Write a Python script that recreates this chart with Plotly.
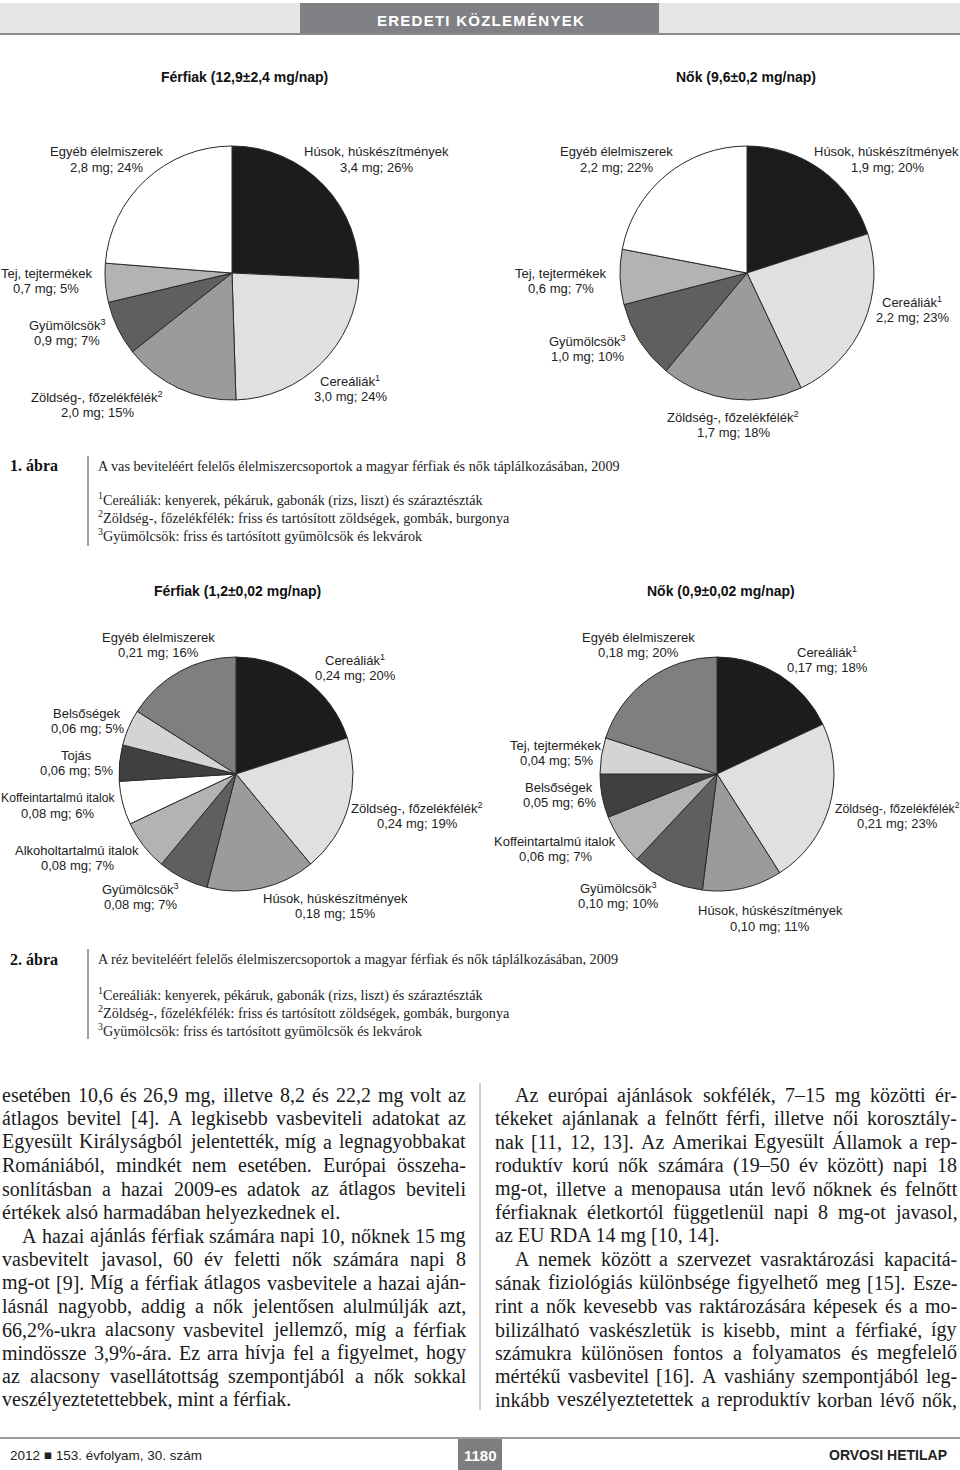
import unicodedata
import plotly.graph_objects as go

W, H = 960, 1470

# ---------------- DATA ----------------
# Figure 1 (iron) - categories in clockwise order from 12 o'clock
fe_categories = ["Húsok, húskészítmények", "Cereáliák<sup>1</sup>",
                 "Zöldség-, főzelékfélék<sup>2</sup>", "Gyümölcsök<sup>3</sup>",
                 "Tej, tejtermékek", "Egyéb élelmiszerek"]
fe_men_mg = [3.4, 3.0, 2.0, 0.9, 0.7, 2.8]
fe_men_pct = [26, 24, 15, 7, 5, 24]
fe_women_mg = [1.9, 2.2, 1.7, 1.0, 0.6, 2.2]
fe_women_pct = [20, 23, 18, 10, 7, 22]

# Figure 2 (copper)
cu_men_categories = ["Cereáliák<sup>1</sup>", "Zöldség-, főzelékfélék<sup>2</sup>",
                     "Húsok, húskészítmények", "Gyümölcsök<sup>3</sup>",
                     "Alkoholtartalmú italok", "Koffeintartalmú italok",
                     "Tojás", "Belsőségek", "Egyéb élelmiszerek"]
cu_men_mg = [0.24, 0.24, 0.18, 0.08, 0.08, 0.08, 0.06, 0.06, 0.21]
cu_men_pct = [20, 19, 15, 7, 7, 6, 5, 5, 16]

cu_women_categories = ["Cereáliák<sup>1</sup>", "Zöldség-, főzelékfélék<sup>2</sup>",
                       "Húsok, húskészítmények", "Gyümölcsök<sup>3</sup>",
                       "Koffeintartalmú italok", "Belsőségek",
                       "Tej, tejtermékek", "Egyéb élelmiszerek"]
cu_women_mg = [0.17, 0.21, 0.10, 0.10, 0.06, 0.05, 0.04, 0.18]
cu_women_pct = [18, 23, 11, 10, 7, 6, 5, 20]

titles = ["Férfiak (12,9±2,4 mg/nap)", "Nők (9,6±0,2 mg/nap)",
          "Férfiak (1,2±0,02 mg/nap)", "Nők (0,9±0,02 mg/nap)"]

# ---------------- STYLE / LAYOUT ----------------
fe_colors = ["#1c1c1c", "#e0e0e0", "#9b9b9b", "#5f5f5f", "#b3b3b3", "#ffffff"]
cu_men_colors = ["#1c1c1c", "#e0e0e0", "#9b9b9b", "#5f5f5f", "#b3b3b3",
                 "#ffffff", "#404040", "#d4d4d4", "#7f7f7f"]
cu_women_colors = ["#1c1c1c", "#e0e0e0", "#9b9b9b", "#5f5f5f", "#b3b3b3",
                   "#404040", "#d4d4d4", "#7f7f7f"]

# label anchor positions in pixels: (name x, name y, value x, name font size)
pos_fe_men = [(376, 152, 376, 13), (350, 381, 350, 13), (97, 397, 97, 13),
              (67, 325, 67, 13), (47, 273, 46, 13), (106, 152, 106, 13)]
pos_fe_women = [(886, 152, 887, 13), (912, 302, 912, 13), (733, 417, 733, 13),
                (587, 341, 587, 13), (561, 273, 561, 13), (616, 152, 616, 13)]
pos_cu_men = [(355, 660, 355, 13), (417, 808, 417, 13), (335, 898, 335, 13),
              (140, 889, 140, 13), (77, 850, 77, 13), (58, 798, 57, 12.2),
              (76, 755, 76, 13), (87, 713, 87, 13), (158, 637, 158, 13)]
pos_cu_women = [(827, 652, 827, 13), (897, 808, 897, 12.3), (770, 911, 770, 13),
                (618, 888, 618, 13), (555, 841, 555, 13), (559, 787, 559, 13),
                (556, 745, 556, 13), (638, 637, 638, 13)]

SANS = "Liberation Sans, Arial, sans-serif"
SERIF = "Liberation Serif, Times New Roman, serif"


def px(x):
    return x / W


def py(y):
    return 1 - y / H


fig = go.Figure()
ann = []
shapes = []


def text(x, y, s, size, family=SANS, color="#222", anchor="center", bold=False):
    ann.append(dict(x=px(x), y=py(y), xref="paper", yref="paper", text=s,
                    showarrow=False, xanchor=anchor, yanchor="middle",
                    borderpad=0, borderwidth=0,
                    font=dict(size=size, family=family, color=color,
                              weight="bold" if bold else "normal")))


def rect(x0, y0, x1, y1, color):
    shapes.append(dict(type="rect", xref="paper", yref="paper",
                       x0=px(x0), x1=px(x1), y0=py(y1), y1=py(y0),
                       fillcolor=color, line=dict(width=0), layer="below"))


def line(x0, y0, x1, y1, color, width=1):
    shapes.append(dict(type="line", xref="paper", yref="paper",
                       x0=px(x0), x1=px(x1), y0=py(y0), y1=py(y1),
                       line=dict(color=color, width=width)))


def add_pie(names, pct, mg, colors, cx, cy, r, positions, decimals):
    fig.add_trace(go.Pie(
        labels=[n.replace("<sup>", "").replace("</sup>", "") for n in names],
        values=pct, sort=False, direction="clockwise", rotation=0,
        marker=dict(colors=colors, line=dict(color="#2a2a2a", width=1)),
        textinfo="none", hoverinfo="skip", showlegend=False,
        domain=dict(x=[px(cx - r), px(cx + r)], y=[py(cy + r), py(cy - r)])))
    for n, p, m, (lx, ly, vx, fs) in zip(names, pct, mg, positions):
        ms = f"{m:.{decimals}f}".replace(".", ",")
        text(lx, ly, n, fs)
        text(vx, ly + 15.5, f"{ms} mg; {p}%", 13)


add_pie(fe_categories, fe_men_pct, fe_men_mg, fe_colors, 232, 273, 127, pos_fe_men, 1)
add_pie(fe_categories, fe_women_pct, fe_women_mg, fe_colors, 747, 273, 127, pos_fe_women, 1)
add_pie(cu_men_categories, cu_men_pct, cu_men_mg, cu_men_colors, 236, 774, 117, pos_cu_men, 2)
add_pie(cu_women_categories, cu_women_pct, cu_women_mg, cu_women_colors, 717, 774, 117, pos_cu_women, 2)

text(245, 77, titles[0], 14, bold=True, color="#111")
text(746, 77, titles[1], 14, bold=True, color="#111")
text(237, 591, titles[2], 14, bold=True, color="#111")
text(721, 591, titles[3], 14, bold=True, color="#111")

# ---------------- header / footer ----------------
rect(0, 3, 960, 34, "#e6e6e7")
line(0, 34, 960, 34, "#8c8c8c", 2)
rect(300, 3, 659, 35, "#808184")
header = "EREDETI KÖZLEMÉNYEK"
text(480, 20, "\u200a".join(header), 15, color="#ffffff", bold=True)

line(0, 1438, 960, 1438, "#9a9a9a", 2)
rect(458, 1437, 502, 1470, "#7d7e80")
text(480, 1455, "1180", 15, color="#ffffff", bold=True)
text(10, 1455, "2012 ■ 153. évfolyam, 30. szám", 13.5, color="#222", anchor="left")
text(947, 1455, "ORVOSI HETILAP", 14, color="#222", anchor="right", bold=True)

# ---------------- serif text metrics (Times-compatible) ----------------
TW = {' ': 250, ',': 250, '.': 250, ';': 278, ':': 278, '-': 333, '–': 500,
      '(': 333, ')': 333, '[': 333, ']': 333, '%': 833}
for c, w in zip("abcdefghijklmnopqrstuvwxyz",
                [444, 500, 444, 500, 444, 333, 500, 500, 278, 278, 500, 278, 778,
                 500, 500, 500, 500, 333, 389, 278, 500, 500, 722, 500, 500, 444]):
    TW[c] = w
for c, w in zip("ABCDEFGHIJKLMNOPQRSTUVWXYZ",
                [722, 667, 667, 722, 611, 556, 722, 722, 333, 389, 722, 611, 889,
                 722, 722, 556, 722, 667, 556, 611, 722, 722, 944, 722, 722, 611]):
    TW[c] = w
for c in "0123456789":
    TW[c] = 500


def em(s):
    t = 0
    for ch in s:
        if ch not in TW:
            ch = unicodedata.normalize("NFD", ch)[0]
        t += TW.get(ch, 500)
    return t / 1000


def body_line(x0, x1, y, s, size, justify, indent=0):
    words = s.split(" ")
    if not justify or len(words) < 2:
        text(x0 + indent, y, s, size, family=SERIF, color="#1a1a1a", anchor="left")
        return
    widths = [em(w) * size for w in words]
    gap = (x1 - x0 - indent - sum(widths)) / (len(words) - 1)
    x = x0 + indent
    for w, wd in zip(words, widths):
        text(x, y, w, size, family=SERIF, color="#1a1a1a", anchor="left")
        x += wd + gap


# ---------------- captions ----------------
cap_main = ["A vas beviteléért felelős élelmiszercsoportok a magyar férfiak és nők táplálkozásában, 2009",
            "A réz beviteléért felelős élelmiszercsoportok a magyar férfiak és nők táplálkozásában, 2009"]
foot = ["Cereáliák: kenyerek, pékáruk, gabonák (rizs, liszt) és száraztészták",
        "Zöldség-, főzelékfélék: friss és tartósított zöldségek, gombák, burgonya",
        "Gyümölcsök: friss és tartósított gyümölcsök és lekvárok"]
cap_size = round(523 / em(cap_main[0]), 1)

for k, (ytop, yc, yf) in enumerate([(456, 466, 499), (949, 959, 994)]):
    line(88, ytop, 88, ytop + 90, "#444", 1)
    text(10, yc, f"{k + 1}. ábra", 16, family=SERIF, color="#111", anchor="left", bold=True)
    text(98, yc, cap_main[k], cap_size, family=SERIF, color="#222", anchor="left")
    for j, f in enumerate(foot):
        text(98, yf + j * 17.8, f"<sup>{j + 1}</sup>{f}", cap_size, family=SERIF,
             color="#222", anchor="left")

# ---------------- body text ----------------
left_lines = [
    "esetében 10,6 és 26,9 mg, illetve 8,2 és 22,2 mg volt az",
    "átlagos bevitel [4]. A legkisebb vasbeviteli adatokat az",
    "Egyesült Királyságból jelentették, míg a legnagyobbakat",
    "Romániából, mindkét nem esetében. Európai összeha-",
    "sonlításban a hazai 2009-es adatok az átlagos beviteli",
    "értékek alsó harmadában helyezkednek el.",
    "A hazai ajánlás férfiak számára napi 10, nőknek 15 mg",
    "vasbevitelt javasol, 60 év feletti nők számára napi 8",
    "mg-ot [9]. Míg a férfiak átlagos vasbevitele a hazai aján-",
    "lásnál nagyobb, addig a nők jelentősen alulmúlják azt,",
    "66,2%-ukra alacsony vasbevitel jellemző, míg a férfiak",
    "mindössze 3,9%-ára. Ez arra hívja fel a figyelmet, hogy",
    "az alacsony vasellátottság szempontjából a nők sokkal",
    "veszélyeztetettebbek, mint a férfiak.",
]
right_lines = [
    "Az európai ajánlások sokfélék, 7–15 mg közötti ér-",
    "tékeket ajánlanak a felnőtt férfi, illetve női korosztály-",
    "nak [11, 12, 13]. Az Amerikai Egyesült Államok a rep-",
    "roduktív korú nők számára (19–50 év között) napi 18",
    "mg-ot, illetve a menopausa után levő nőknek és felnőtt",
    "férfiaknak életkortól függetlenül napi 8 mg-ot javasol,",
    "az EU RDA 14 mg [10, 14].",
    "A nemek között a szervezet vasraktározási kapacitá-",
    "sának fiziológiás különbsége figyelhető meg [15]. Esze-",
    "rint a nők kevesebb vas raktározására képesek és a mo-",
    "bilizálható vaskészletük is kisebb, mint a férfiaké, így",
    "számukra különösen fontos a folyamatos és megfelelő",
    "mértékű vasbevitel [16]. A vashiány szempontjából leg-",
    "inkább veszélyeztetettek a reproduktív korban lévő nők,",
]
BODY_Y0, BODY_DY, BODY_SIZE = 1095, 23.45, 20
for i, s in enumerate(left_lines):
    body_line(2, 466, BODY_Y0 + i * BODY_DY, s, BODY_SIZE,
              justify=i not in (5, 13), indent=20 if i == 6 else 0)
for i, s in enumerate(right_lines):
    body_line(495, 957, BODY_Y0 + i * BODY_DY, s, BODY_SIZE,
              justify=i != 6, indent=20 if i in (0, 7) else 0)
line(480, 1083, 480, 1410, "#9a9a9a", 1)

fig.update_layout(width=W, height=H, margin=dict(l=0, r=0, t=0, b=0),
                  paper_bgcolor="white", plot_bgcolor="white",
                  annotations=ann, shapes=shapes)
fig.write_html("out.html", config={"displayModeBar": False},
               post_script="document.body.style.margin='0';document.body.style.overflow='hidden';")
